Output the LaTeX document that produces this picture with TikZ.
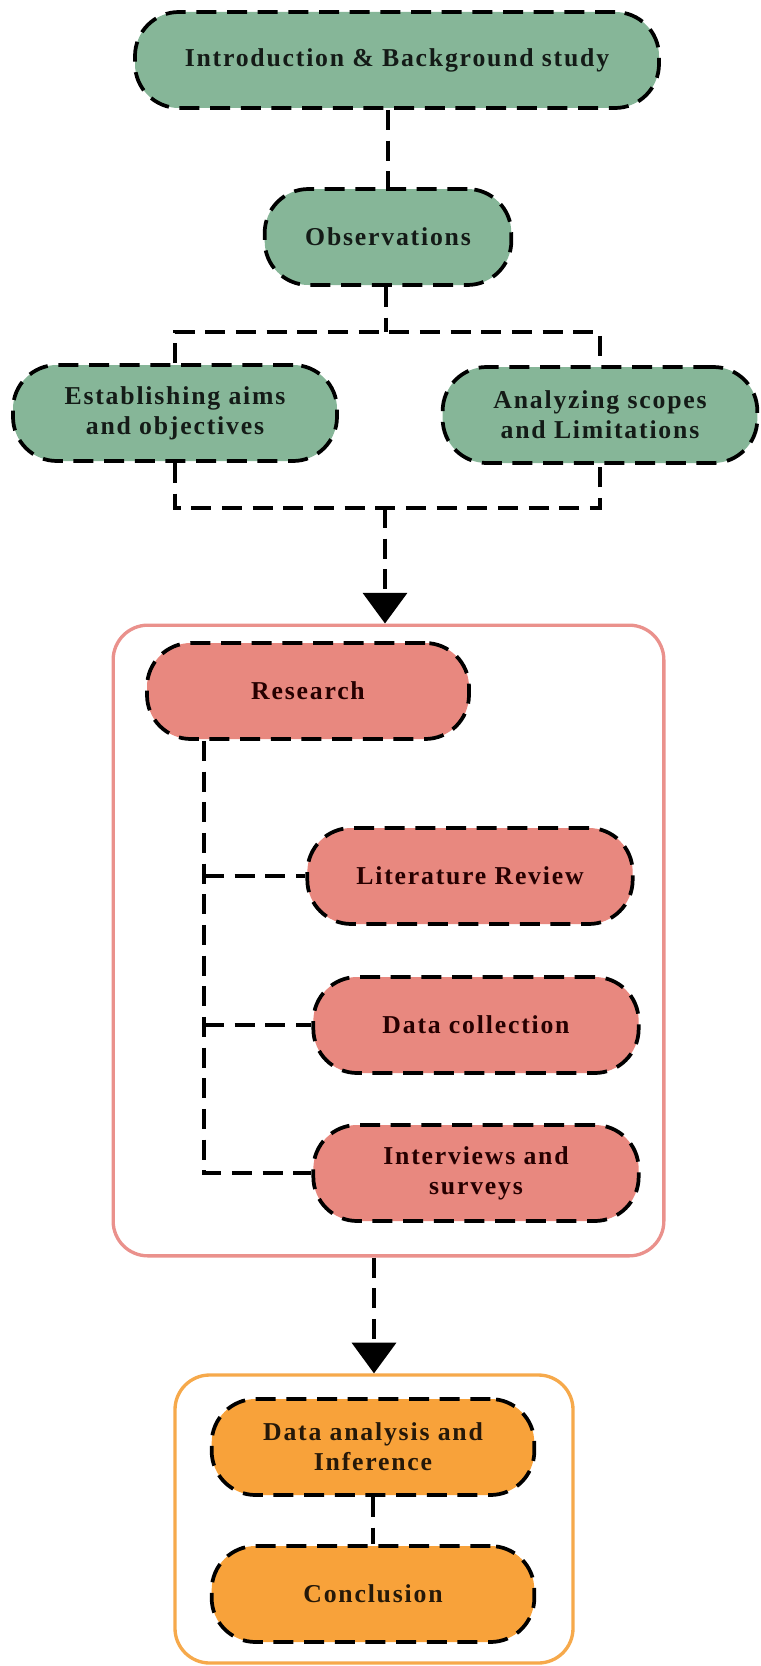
\documentclass[tikz,border=0pt]{standalone}
\usepackage{fontspec}
\setmainfont{Liberation Serif}[LetterSpace=7]
\usetikzlibrary{arrows.meta}

\definecolor{sage}{HTML}{86B698}
\definecolor{salmon}{HTML}{E8887F}
\definecolor{amber}{HTML}{F8A23A}
\definecolor{salmonline}{HTML}{EA918C}
\definecolor{amberline}{HTML}{F6A94B}

\begin{document}
\begin{tikzpicture}[x=0.75pt,y=-0.75pt,
	stage/.style={draw=black, line width=2.8pt, dash pattern=on 15pt off 8pt,
		rounded corners=33pt, minimum height=72pt, inner sep=0pt, align=center,
		font=\fontsize{19.3}{22.5}\selectfont\bfseries},
	greenstage/.style={stage, fill=sage, text=black!85!sage},
	redstage/.style={stage, fill=salmon, text=black!85!red},
	orangestage/.style={stage, fill=amber, text=black!85!amber},
	frame/.style={line width=2.5pt, rounded corners=26pt, fill=white, inner sep=0pt},
	link/.style={draw=black, line width=2.8pt, dash pattern=on 15pt off 8pt},
	flow/.style={link, -{Triangle[width=33pt,length=23pt]}}]

	\useasboundingbox (0,0) rectangle (760,1666);

	% containers
	\node[frame, draw=salmonline, minimum width=413pt, minimum height=473pt] (resbox) at (388.5,940.5) {};
	\node[frame, draw=amberline, minimum width=298.5pt, minimum height=216pt] (finbox) at (374,1519) {};

	% stages
	\node[greenstage, minimum width=393pt] (intro) at (397,60) {Introduction \& Background study};
	\node[greenstage, minimum width=185pt] (obs) at (388,237) {Observations};
	\node[greenstage, minimum width=243pt] (aims) at (175,413) {Establishing aims\\and objectives};
	\node[greenstage, minimum width=236pt] (scope) at (600,415) {Analyzing scopes\\and Limitations};

	\node[redstage, minimum width=241.5pt] (research) at (308,691) {Research};
	\node[redstage, minimum width=244pt] (litrev) at (470,876) {Literature Review};
	\node[redstage, minimum width=244pt] (datacol) at (476,1025) {Data collection};
	\node[redstage, minimum width=244pt] (survey) at (476,1173) {Interviews and\\surveys};

	\node[orangestage, minimum width=242pt] (analysis) at (373,1447) {Data analysis and\\Inference};
	\node[orangestage, minimum width=242pt] (concl) at (373,1594) {Conclusion};

	% connectors
	\coordinate (split) at (386,332);
	\coordinate (join) at (385,508);
	\coordinate (trunk) at (204,0);

	\draw[link] (obs.north |- intro.south) -- (obs.north);
	\draw[link] (obs.south -| split) -- (split);
	\draw[link] (aims.north) -- (aims.north |- split) -- (scope.north |- split) -- (scope.north);
	\draw[link] (aims.south) -- (aims.south |- join) -- (scope.south |- join) -- (scope.south);
	\draw[flow] (join) -- (resbox.north -| join);

	\draw[link] (research.south -| trunk) -- (survey.west -| trunk) -- (survey.west);
	\draw[link] (litrev.west -| trunk) -- (litrev.west);
	\draw[link] (datacol.west -| trunk) -- (datacol.west);

	\draw[flow] (finbox.north |- resbox.south) -- (finbox.north);
	\draw[link] (analysis.south) -- (concl.north);

\end{tikzpicture}
\end{document}
